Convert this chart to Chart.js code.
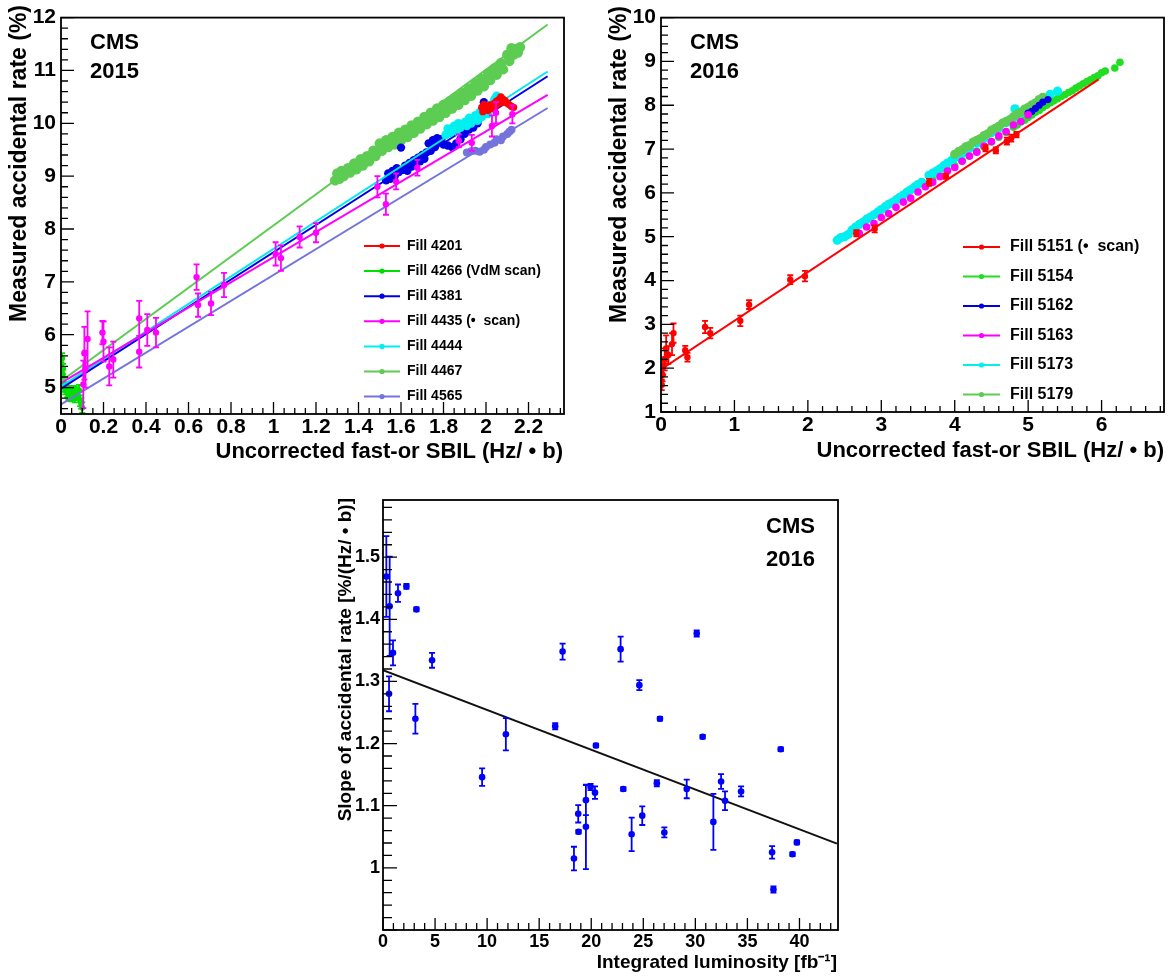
<!DOCTYPE html>
<html>
<head>
<meta charset="utf-8">
<title>CMS accidental rate</title>
<script src="https://cdn.jsdelivr.net/npm/chart.js@4.4.1/dist/chart.umd.min.js"></script>
<style>
  html, body { margin: 0; padding: 0; background: #fff; }
  #page { position: relative; width: 1172px; height: 976px; overflow: hidden; }
  .panel { position: absolute; }
</style>
</head>
<body>
<div id="page">
  <div class="panel" style="left:0;top:0;width:580px;height:470px"><canvas id="c2015"></canvas></div>
  <div class="panel" style="left:590px;top:0;width:582px;height:470px"><canvas id="c2016"></canvas></div>
  <div class="panel" style="left:330px;top:480px;width:530px;height:496px"><canvas id="cSlope"></canvas></div>
</div>
<script>
/* ============================================
   CMS fast-or accidental rate - three ROOT style panels
   ============================================ */

const FONT = '"Liberation Sans", Arial, Helvetica, sans-serif';

// ---- 2015 panel ----
const ticks2015X = [0, 0.2, 0.4, 0.6, 0.8, 1, 1.2, 1.4, 1.6, 1.8, 2, 2.2];
const ticks2015Y = [5, 6, 7, 8, 9, 10, 11, 12];

const fill4201X = [1.98, 1.985, 1.99, 2.0, 2.005, 2.01, 2.02, 2.025, 2.03, 2.04, 2.045, 2.05, 2.06, 2.065, 2.07, 2.08, 2.085, 2.09, 2.10, 2.11, 2.12, 2.13];
const fill4201Y = [10.30, 10.22, 10.36, 10.27, 10.33, 10.24, 10.35, 10.28, 10.30, 10.38, 10.32, 10.42, 10.45, 10.38, 10.50, 10.46, 10.40, 10.43, 10.38, 10.35, 10.32, 10.30];

const fill4266X = [0.003, 0.005, 0.008, 0.01, 0.012, 0.015, 0.02, 0.025, 0.03, 0.035, 0.04, 0.045, 0.05, 0.055, 0.06, 0.065, 0.07, 0.075, 0.08, 0.085, 0.09, 0.095, 0.1];
const fill4266Y = [5.45, 5.55, 5.25, 5.35, 5.10, 5.00, 4.95, 5.02, 4.90, 4.85, 4.95, 4.82, 4.90, 4.85, 4.95, 4.80, 4.88, 4.93, 4.85, 4.95, 4.75, 4.70, 4.62];
const fill4266E = [0.12, 0.1, 0.12, 0.1, 0.1, 0.08, 0.08, 0.08, 0.08, 0.08, 0.08, 0.08, 0.08, 0.08, 0.08, 0.08, 0.08, 0.08, 0.08, 0.1, 0.1, 0.1, 0.1];

const fill4381X = [1.53, 1.54, 1.55, 1.56, 1.57, 1.58, 1.59, 1.60, 1.61, 1.62, 1.63, 1.64, 1.65, 1.66, 1.67, 1.68, 1.69, 1.70, 1.71, 1.72, 1.73, 1.74, 1.75, 1.76, 1.77, 1.78, 1.79, 1.80, 1.82, 1.84, 1.86, 1.88, 1.90, 1.92, 1.94, 1.96, 1.97, 1.98, 1.99];
const fill4381Y = [8.92, 9.05, 8.95, 9.10, 9.00, 9.15, 9.08, 9.54, 9.12, 9.20, 9.10, 9.25, 9.18, 9.30, 9.22, 9.35, 9.28, 9.40, 9.33, 9.45, 9.62, 9.48, 9.68, 9.55, 9.72, 9.65, 9.70, 9.60, 9.58, 9.55, 9.62, 9.70, 9.80, 9.88, 9.92, 10.00, 10.10, 10.25, 10.40];

const fill4435X = [0.105, 0.11, 0.115, 0.125, 0.195, 0.20, 0.227, 0.246, 0.368, 0.368, 0.406, 0.447, 0.638, 0.645, 0.706, 0.767, 1.01, 1.035, 1.123, 1.20, 1.489, 1.529, 1.577, 1.677, 1.872, 1.933, 2.028, 2.047, 2.124];
const fill4435Y = [5.06, 5.65, 5.35, 5.92, 6.04, 5.87, 5.40, 5.53, 6.31, 5.68, 6.09, 6.04, 7.09, 6.56, 6.59, 6.94, 7.53, 7.45, 7.85, 7.93, 8.80, 8.47, 8.90, 9.16, 9.67, 9.63, 9.95, 10.20, 10.17];
const fill4435E = [0.45, 0.5, 0.35, 0.52, 0.22, 0.38, 0.36, 0.34, 0.33, 0.3, 0.3, 0.28, 0.24, 0.22, 0.22, 0.23, 0.22, 0.24, 0.2, 0.18, 0.2, 0.2, 0.15, 0.15, 0.12, 0.15, 0.2, 0.2, 0.17];

const fill4444X = [1.81, 1.82, 1.83, 1.85, 1.86, 1.87, 1.88, 1.90, 1.91, 1.92, 1.93, 1.95, 1.96, 1.97, 1.98, 2.00, 2.01, 2.02, 2.03, 2.04, 2.05];
const fill4444Y = [9.78, 9.90, 9.82, 9.95, 9.85, 10.00, 9.92, 10.02, 9.95, 10.10, 10.00, 10.15, 10.05, 10.20, 10.12, 10.25, 10.18, 10.35, 10.28, 10.45, 10.52];

const fill4467X = [1.29, 1.30, 1.31, 1.32, 1.33, 1.35, 1.36, 1.38, 1.39, 1.41, 1.42, 1.44, 1.45, 1.47, 1.48, 1.50, 1.51, 1.53, 1.54, 1.56, 1.57, 1.59, 1.60, 1.62, 1.63, 1.65, 1.66, 1.68, 1.69, 1.71, 1.72, 1.74, 1.75, 1.77, 1.78, 1.80, 1.81, 1.83, 1.84, 1.86, 1.87, 1.89, 1.90, 1.92, 1.93, 1.95, 1.96, 1.98, 1.99, 2.01, 2.02, 2.04, 2.05, 2.07, 2.08, 2.10, 2.11, 2.12, 2.13, 2.14, 2.15, 2.16];
const fill4467Y = [8.92, 9.05, 8.95, 9.10, 9.00, 9.15, 9.07, 9.24, 9.13, 9.32, 9.20, 9.38, 9.28, 9.48, 9.38, 9.62, 9.48, 9.68, 9.55, 9.74, 9.60, 9.82, 9.68, 9.88, 9.74, 9.96, 9.82, 10.03, 9.90, 10.12, 9.98, 10.20, 10.05, 10.28, 10.12, 10.35, 10.20, 10.42, 10.28, 10.50, 10.35, 10.58, 10.44, 10.66, 10.52, 10.76, 10.62, 10.84, 10.70, 10.95, 10.82, 11.04, 10.92, 11.14, 11.02, 11.30, 11.18, 11.42, 11.30, 11.40, 11.34, 11.44];

const fill4565X = [1.91, 1.93, 1.95, 1.97, 1.99, 2.00, 2.02, 2.04, 2.05, 2.07, 2.08, 2.10, 2.11, 2.12];
const fill4565Y = [9.45, 9.47, 9.48, 9.46, 9.50, 9.55, 9.60, 9.63, 9.70, 9.68, 9.75, 9.80, 9.84, 9.88];

// fit lines, end points
const fit2015X = [0, 2.29];
const fit4467Y = [5.12, 11.87];
const fit4444Y = [5.02, 10.98];
const fit4381Y = [4.98, 10.89];
const fit4435Y = [5.09, 10.54];
const fit4565Y = [4.68, 10.29];

// ---- 2016 panel ----
const ticks2016X = [0, 1, 2, 3, 4, 5, 6];
const ticks2016Y = [1, 2, 3, 4, 5, 6, 7, 8, 9, 10];

const fill5151X = [0.01, 0.02, 0.03, 0.05, 0.07, 0.10, 0.15, 0.17, 0.33, 0.36, 0.60, 0.67, 1.08, 1.20, 1.76, 1.96, 2.66, 2.91, 3.65, 3.88, 4.42, 4.56, 4.71, 4.77, 4.84];
const fill5151Y = [1.62, 1.85, 2.05, 2.20, 2.45, 2.30, 2.55, 2.80, 2.41, 2.25, 2.94, 2.80, 3.08, 3.45, 4.02, 4.10, 5.08, 5.18, 6.24, 6.38, 7.02, 6.97, 7.18, 7.25, 7.33];
const fill5151E = [0.12, 0.15, 0.2, 0.25, 0.3, 0.2, 0.25, 0.22, 0.1, 0.1, 0.14, 0.12, 0.12, 0.1, 0.1, 0.12, 0.07, 0.08, 0.08, 0.06, 0.07, 0.07, 0.08, 0.08, 0.06];

const fill5154X = [3.60, 3.70, 3.80, 3.90, 4.00, 4.10, 4.20, 4.30, 4.40, 4.50, 4.60, 4.70, 4.80, 4.85, 4.90, 4.95, 5.00, 5.05, 5.10, 5.15, 5.20, 5.25, 5.30, 5.35, 5.40, 5.45, 5.50, 5.55, 5.60, 5.65, 5.70, 5.75, 5.80, 5.85, 5.90, 5.95, 6.00, 6.05, 6.18, 6.25];
const fill5154Y = [6.18, 6.30, 6.40, 6.52, 6.62, 6.74, 6.84, 6.95, 7.05, 7.16, 7.27, 7.38, 7.50, 7.55, 7.62, 7.66, 7.72, 7.78, 7.84, 7.88, 7.95, 8.00, 8.05, 8.10, 8.15, 8.20, 8.24, 8.29, 8.33, 8.39, 8.44, 8.49, 8.54, 8.58, 8.63, 8.67, 8.74, 8.78, 8.85, 8.98];

const fill5162X = [5.00, 5.05, 5.10, 5.15, 5.20, 5.27];
const fill5162Y = [7.82, 7.86, 7.93, 8.00, 8.07, 8.13];

const fill5163X = [2.70, 2.80, 2.90, 3.00, 3.10, 3.20, 3.30, 3.40, 3.50, 3.60, 3.70, 3.80, 3.90, 4.00, 4.10, 4.20, 4.30, 4.40, 4.50, 4.60, 4.70, 4.80, 4.90, 5.00];
const fill5163Y = [5.08, 5.22, 5.30, 5.44, 5.53, 5.67, 5.79, 5.88, 6.02, 6.14, 6.24, 6.37, 6.50, 6.58, 6.72, 6.84, 6.93, 7.07, 7.17, 7.30, 7.40, 7.55, 7.63, 7.78];

const fill5173X = [2.40, 2.45, 2.50, 2.55, 2.60, 2.65, 2.70, 2.75, 2.80, 2.85, 2.90, 2.95, 3.00, 3.05, 3.10, 3.15, 3.20, 3.25, 3.30, 3.35, 3.40, 3.45, 3.50, 3.55, 3.65, 3.70, 3.75, 3.80, 3.85, 3.90, 3.95, 4.00, 4.05, 4.10, 4.15, 4.20, 4.30, 4.40, 4.50, 4.60, 4.70, 4.80, 4.82, 4.90, 5.00, 5.10, 5.20, 5.30, 5.40];
const fill5173Y = [4.92, 4.98, 5.00, 5.05, 5.15, 5.22, 5.28, 5.33, 5.40, 5.45, 5.50, 5.56, 5.62, 5.68, 5.74, 5.78, 5.84, 5.90, 5.95, 6.02, 6.07, 6.13, 6.19, 6.24, 6.40, 6.45, 6.50, 6.55, 6.62, 6.68, 6.73, 6.80, 6.85, 6.90, 6.96, 7.02, 7.13, 7.25, 7.37, 7.48, 7.60, 7.72, 7.92, 7.82, 7.93, 8.05, 8.15, 8.25, 8.32];

const fill5179X = [4.00, 4.05, 4.10, 4.15, 4.20, 4.25, 4.30, 4.35, 4.40, 4.45, 4.50, 4.55, 4.60, 4.65, 4.70, 4.75, 4.80, 4.85, 4.90, 4.95, 5.00, 5.05, 5.10, 5.15, 5.20];
const fill5179Y = [6.88, 6.94, 6.98, 7.05, 7.08, 7.16, 7.20, 7.24, 7.31, 7.35, 7.43, 7.47, 7.52, 7.59, 7.63, 7.67, 7.74, 7.80, 7.84, 7.91, 7.95, 8.01, 8.05, 8.13, 8.18];

const fit2016X = [0, 5.96];
const fit5151Y = [1.97, 8.59];

// ---- slope vs integrated luminosity ----
const ticksLumiX = [0, 5, 10, 15, 20, 25, 30, 35, 40];
const ticksLumiY = [1, 1.1, 1.2, 1.3, 1.4, 1.5];
const lumi = [0.32, 0.64, 0.58, 0.96, 1.44, 2.25, 3.21, 4.71, 3.11, 9.52, 11.8, 16.54, 17.25, 18.34, 18.75, 18.78, 19.49, 19.49, 19.94, 20.36, 20.45, 22.82, 23.08, 23.88, 24.62, 24.9, 26.3, 26.6, 27.02, 29.17, 30.13, 30.7, 31.73, 32.47, 32.85, 34.39, 37.37, 37.5, 38.2, 39.33, 39.75];
const slope = [1.469, 1.421, 1.28, 1.346, 1.442, 1.453, 1.416, 1.334, 1.24, 1.146, 1.215, 1.228, 1.348, 1.015, 1.087, 1.058, 1.109, 1.066, 1.13, 1.121, 1.197, 1.352, 1.127, 1.054, 1.294, 1.084, 1.136, 1.24, 1.057, 1.127, 1.377, 1.211, 1.074, 1.139, 1.108, 1.123, 1.025, 0.965, 1.191, 1.022, 1.041];
const slopeErr = [0.065, 0.08, 0.028, 0.02, 0.014, 0.004, 0.003, 0.012, 0.024, 0.014, 0.026, 0.005, 0.013, 0.019, 0.014, 0.003, 0.024, 0.068, 0.005, 0.01, 0.003, 0.02, 0.003, 0.027, 0.008, 0.015, 0.005, 0.003, 0.008, 0.015, 0.005, 0.003, 0.045, 0.012, 0.015, 0.008, 0.01, 0.005, 0.003, 0.003, 0.003];
const fitLumiX = [0, 43.6];
const fitLumiY = [1.318, 1.039];

// ---------------------------------------------

const pts = (xs, ys) => xs.map((x, i) => ({ x, y: ys[i] }));

function points(label, color, xs, ys, errs, r, order) {
    return { label, data: pts(xs, ys), errs, backgroundColor: color, borderColor: color,
        pointRadius: r, pointBorderWidth: 0, pointHoverRadius: r, showLine: false, order };
}

function fitLine(color, xs, ys, order) {
    return { data: pts(xs, ys), borderColor: color, backgroundColor: color, borderWidth: 2,
        pointRadius: 0, pointHoverRadius: 0, showLine: true, fill: false, order };
}

function axis(min, max, ticks, size, extent, pad, fmt) {
    return {
        type: 'linear', min, max,
        grid: { display: false, drawTicks: false }, border: { display: false },
        afterBuildTicks: s => { s.ticks = ticks.map(v => ({ value: v })); },
        afterFit: s => { if (s.isHorizontal()) s.height = extent; else s.width = extent; },
        ticks: { autoSkip: false, maxRotation: 0, minRotation: 0, padding: pad, color: '#000',
            font: { family: FONT, size, weight: 'bold' }, callback: v => fmt(v) }
    };
}

const num = v => String(+v.toFixed(2));

// error bars, drawn right after their own dataset
const errorBars = {
    id: 'errorBars',
    afterDatasetDraw(chart, args) {
        const ds = chart.data.datasets[args.index];
        if (!ds.errs) return;
        const { ctx, chartArea: a } = chart;
        const ys = chart.scales.y;
        ctx.save();
        ctx.beginPath(); ctx.rect(a.left, a.top, a.right - a.left, a.bottom - a.top); ctx.clip();
        ctx.strokeStyle = ds.borderColor; ctx.lineWidth = 1.8;
        ctx.beginPath();
        args.meta.data.forEach((el, i) => {
            const e = ds.errs[i];
            if (!e) return;
            const v = ds.data[i].y;
            const t = ys.getPixelForValue(v + e), b = ys.getPixelForValue(v - e);
            ctx.moveTo(el.x, t); ctx.lineTo(el.x, b);
            ctx.moveTo(el.x - 3, t); ctx.lineTo(el.x + 3, t);
            ctx.moveTo(el.x - 3, b); ctx.lineTo(el.x + 3, b);
        });
        ctx.stroke();
        ctx.restore();
    }
};

function tickMarks(min, max, step, major) {
    const out = [];
    for (let n = Math.ceil(min / step - 1e-6); n <= Math.floor(max / step + 1e-6); n++) {
        const v = n * step, r = v / major;
        out.push([v, Math.abs(r - Math.round(r)) < 1e-6]);
    }
    return out;
}

// frame + inward ticks like ROOT
const rootFrame = {
    id: 'rootFrame',
    afterDraw(chart, args, o) {
        const { ctx, chartArea: a, scales: { x, y } } = chart;
        ctx.save();
        ctx.strokeStyle = '#000';
        ctx.lineWidth = 1.3;
        ctx.beginPath();
        tickMarks(x.min, x.max, o.xMinor, o.xMajor).forEach(([v, big]) => {
            const p = x.getPixelForValue(v);
            ctx.moveTo(p, a.bottom); ctx.lineTo(p, a.bottom - (big ? o.bigX : o.smallX));
        });
        tickMarks(y.min, y.max, o.yMinor, o.yMajor).forEach(([v, big]) => {
            const p = y.getPixelForValue(v);
            ctx.moveTo(a.left, p); ctx.lineTo(a.left + (big ? o.bigY : o.smallY), p);
        });
        ctx.stroke();
        ctx.lineWidth = 1.8;
        ctx.strokeRect(a.left, a.top, a.right - a.left, a.bottom - a.top);
        ctx.restore();
    }
};

// axis titles, CMS labels, legend
const rootText = {
    id: 'rootText',
    afterDraw(chart, args, o) {
        const ctx = chart.ctx;
        ctx.save();
        ctx.textBaseline = 'middle';
        (o.labels || []).forEach(t => {
            ctx.save();
            ctx.fillStyle = '#000';
            ctx.font = t.font;
            ctx.textAlign = t.align || 'left';
            ctx.translate(t.x, t.y);
            if (t.rotate) ctx.rotate(-Math.PI / 2);
            ctx.fillText(t.text, 0, 0);
            ctx.restore();
        });
        const L = o.legend;
        if (L) {
            chart.data.datasets.filter(d => d.label).forEach((d, i) => {
                const yy = L.y + i * L.dy;
                ctx.strokeStyle = d.borderColor; ctx.lineWidth = 2;
                ctx.beginPath(); ctx.moveTo(L.x0, yy); ctx.lineTo(L.x1, yy); ctx.stroke();
                ctx.fillStyle = d.borderColor;
                ctx.beginPath(); ctx.arc((L.x0 + L.x1) / 2, yy, 2.6, 0, 2 * Math.PI); ctx.fill();
                ctx.fillStyle = '#000'; ctx.font = L.font; ctx.textAlign = 'left';
                ctx.fillText(d.label, L.tx, yy);
            });
        }
        ctx.restore();
    }
};

function makeChart(id, c) {
    return new Chart(document.getElementById(id), {
        type: 'scatter',
        data: { datasets: c.datasets },
        options: {
            responsive: true, maintainAspectRatio: false, animation: false,
            layout: { autoPadding: false, padding: c.padding },
            scales: { x: c.x, y: c.y },
            plugins: { legend: { display: false }, tooltip: { enabled: false },
                rootFrame: c.frame, rootText: c.text }
        },
        plugins: [errorBars, rootFrame, rootText]
    });
}

const B = s => 'bold ' + s + 'px ' + FONT;

// ---- 2015 ----
makeChart('c2015', {
    padding: { left: 0, top: 16, right: 16, bottom: 0 },
    x: axis(0, 2.367, ticks2015X, 21, 56, 1, num),
    y: axis(4.5, 12, ticks2015Y, 21, 61, 5, num),
    datasets: [
        points('Fill 4201', '#ff0000', fill4201X, fill4201Y, null, 3.6, 1),
        points('Fill 4266 (VdM scan)', '#00e000', fill4266X, fill4266Y, fill4266E, 3, 6),
        points('Fill 4381', '#0000e6', fill4381X, fill4381Y, null, 4.2, 4),
        points('Fill 4435 (\u2022  scan)', '#ff00ff', fill4435X, fill4435Y, fill4435E, 3.2, 0),
        points('Fill 4444', '#00f0f0', fill4444X, fill4444Y, null, 4.4, 2),
        points('Fill 4467', '#5ccc52', fill4467X, fill4467Y, null, 5.2, 7),
        points('Fill 4565', '#7474dc', fill4565X, fill4565Y, null, 4, 5),
        fitLine('#5ccc52', fit2015X, fit4467Y, 3),
        fitLine('#7474dc', fit2015X, fit4565Y, 3),
        fitLine('#ff00ff', fit2015X, fit4435Y, 3),
        fitLine('#0000e6', fit2015X, fit4381Y, 3),
        fitLine('#00e8f0', fit2015X, fit4444Y, 3)
    ],
    frame: { xMinor: 0.05, xMajor: 0.2, yMinor: 0.2, yMajor: 1, bigX: 12, smallX: 6, bigY: 13, smallY: 7 },
    text: {
        labels: [
            { text: 'CMS', x: 90, y: 43, font: B(22) },
            { text: '2015', x: 90, y: 72, font: B(22) },
            { text: 'Uncorrected fast-or SBIL (Hz/ \u2022 b)', x: 563, y: 452, font: B(22), align: 'right' },
            { text: 'Measured accidental rate (%)', x: 20, y: 5, font: B(23), align: 'right', rotate: true }
        ],
        legend: { x0: 364, x1: 400, tx: 407, y: 246, dy: 25.1, font: B(14) }
    }
});

// ---- 2016 ----
makeChart('c2016', {
    padding: { left: 0, top: 16, right: 8, bottom: 0 },
    x: axis(0, 6.85, ticks2016X, 21, 58, 1, num),
    y: axis(1, 10, ticks2016Y, 21, 71, 5, num),
    datasets: [
        points('Fill 5151 (\u2022  scan)', '#ff0000', fill5151X, fill5151Y, fill5151E, 3.2, 0),
        points('Fill 5154', '#22dd22', fill5154X, fill5154Y, null, 3.8, 6),
        points('Fill 5162', '#0000e6', fill5162X, fill5162Y, null, 3.6, 3),
        points('Fill 5163', '#ff00ff', fill5163X, fill5163Y, null, 3.8, 2),
        points('Fill 5173', '#00f0f0', fill5173X, fill5173Y, null, 4.6, 5),
        points('Fill 5179', '#5ccc52', fill5179X, fill5179Y, null, 4.6, 4),
        fitLine('#ff0000', fit2016X, fit5151Y, 1)
    ],
    frame: { xMinor: 0.2, xMajor: 1, yMinor: 0.2, yMajor: 1, bigX: 12, smallX: 6, bigY: 13, smallY: 7 },
    text: {
        labels: [
            { text: 'CMS', x: 100, y: 43, font: B(22) },
            { text: '2016', x: 100, y: 72, font: B(22) },
            { text: 'Uncorrected fast-or SBIL (Hz/ \u2022 b)', x: 574, y: 451, font: B(22), align: 'right' },
            { text: 'Measured accidental rate (%)', x: 30, y: 6, font: B(23), align: 'right', rotate: true }
        ],
        legend: { x0: 373, x1: 410, tx: 420, y: 247, dy: 29.5, font: B(16) }
    }
});

// ---- slope vs luminosity ----
makeChart('cSlope', {
    padding: { left: 0, top: 20, right: 22, bottom: 0 },
    x: axis(0, 43.7, ticksLumiX, 18, 46, 1, num),
    y: axis(0.9, 1.592, ticksLumiY, 18, 53, 3, num),
    datasets: [
        points('', '#0000ff', lumi, slope, slopeErr, 3.3, 0),
        fitLine('#111111', fitLumiX, fitLumiY, 1)
    ],
    frame: { xMinor: 1, xMajor: 5, yMinor: 0.02, yMajor: 0.1, bigX: 12, smallX: 7, bigY: 14, smallY: 9 },
    text: {
        labels: [
            { text: 'CMS', x: 485, y: 47, font: B(22), align: 'right' },
            { text: '2016', x: 485, y: 80, font: B(22), align: 'right' },
            { text: 'Integrated luminosity [fb\u207B\u00B9]', x: 507, y: 483, font: B(19), align: 'right' },
            { text: 'Slope of accidental rate [%/(Hz/ \u2022 b)]', x: 16, y: 18, font: B(19), align: 'right', rotate: true }
        ]
    }
});
</script>
</body>
</html>
